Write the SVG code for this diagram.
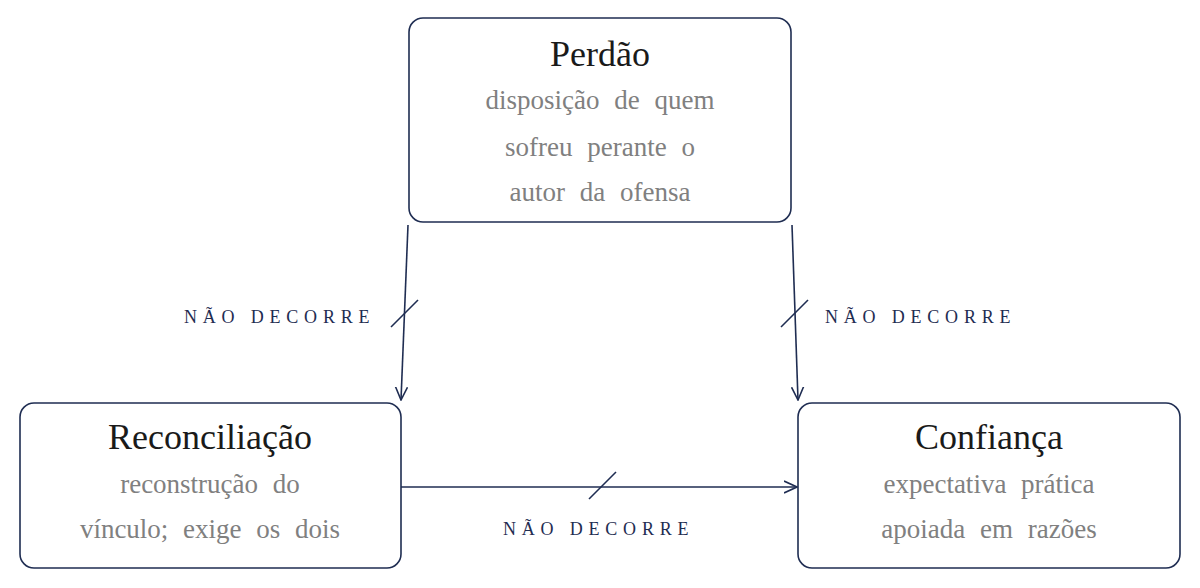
<svg xmlns="http://www.w3.org/2000/svg" width="1200" height="588" viewBox="0 0 1200 588">
<style>
.box{fill:#fff;stroke:#1f2d52;stroke-width:1.6}
.t{font-family:"Liberation Serif",serif;font-size:36px;fill:#1a1a1a;text-anchor:middle}
.d{font-family:"Liberation Serif",serif;font-size:27px;fill:#808080;text-anchor:middle;word-spacing:8px}
.l{font-family:"Liberation Serif",serif;font-size:18px;fill:#1f2d52;letter-spacing:5.8px}
.c{stroke:#1f2d52;stroke-width:1.6;fill:none}
</style>
<defs>
<marker id="b" viewBox="0 0 14 14" refX="13" refY="7" markerWidth="14" markerHeight="14" markerUnits="userSpaceOnUse" orient="auto"><path d="M0,1 L13,7 L0,13" fill="none" stroke="#1f2d52" stroke-width="1.6"/></marker></defs>
<g id="connectors">
<path class="c" d="M408,225 L401,400" marker-end="url(#b)"/>
<path class="c" d="M391,327 L418,300"/>
<text class="l" x="184" y="323">NÃO DECORRE</text>
<path class="c" d="M792,225 L798,400" marker-end="url(#b)"/>
<path class="c" d="M781,327 L808,300"/>
<text class="l" x="825" y="323">NÃO DECORRE</text>
<path class="c" d="M401,487 L797,487" marker-end="url(#b)"/>
<path class="c" d="M589,499 L616,472"/>
<text class="l" x="503" y="535">NÃO DECORRE</text>
</g>
<g id="perdao"><rect class="box" x="409" y="18" width="382" height="204" rx="14"/>
<text class="t" x="600" y="66">Perdão</text>
<text class="d" x="600" y="109">disposição de quem</text>
<text class="d" x="600" y="156">sofreu perante o</text>
<text class="d" x="600" y="201">autor da ofensa</text></g>
<g id="reconciliacao"><rect class="box" x="20" y="403" width="381" height="165" rx="14"/>
<text class="t" x="210" y="449">Reconciliação</text>
<text class="d" x="210" y="493">reconstrução do</text>
<text class="d" x="210" y="538">vínculo; exige os dois</text></g>
<g id="confianca"><rect class="box" x="798" y="403" width="382" height="165" rx="14"/>
<text class="t" x="989" y="449">Confiança</text>
<text class="d" x="989" y="493">expectativa prática</text>
<text class="d" x="989" y="538">apoiada em razões</text></g>
</svg>
